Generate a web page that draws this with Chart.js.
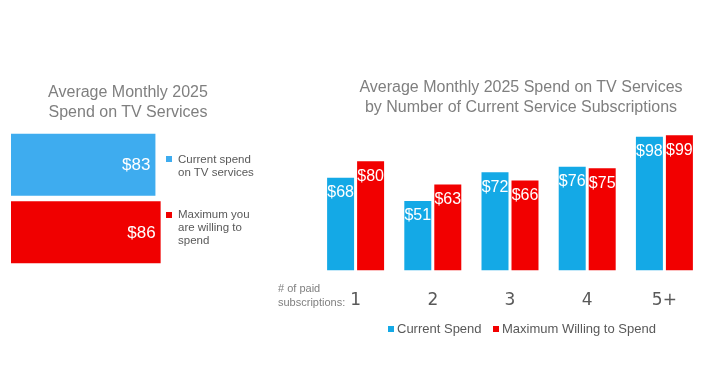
<!DOCTYPE html>
<html>
<head>
<meta charset="utf-8">
<script src="https://cdn.jsdelivr.net/npm/chart.js@4.4.1/dist/chart.umd.min.js"></script>
<style>
  body { margin: 0; background: #fff; font-family: "Liberation Sans", Arial, sans-serif; }
  #wrap { position: relative; width: 720px; height: 366px; overflow: hidden; }
  canvas { position: absolute; top: 0; }
  .title { position: absolute; color: #7f7f7f; font-size: 16px; line-height: 20px; text-align: center; white-space: nowrap; }
  .leg { position: absolute; color: #595959; font-size: 11.5px; line-height: 13px; white-space: nowrap; }
  .sw { position: absolute; width: 6px; height: 6px; }
  .note { position: absolute; color: #808080; font-size: 11px; line-height: 14px; white-space: nowrap; }
  .leg2 { position: absolute; color: #595959; font-size: 13px; line-height: 16px; white-space: nowrap; }
</style>
</head>
<body>
<div id="wrap">
  <canvas id="overall" width="190" height="366" style="left:0"></canvas>
  <canvas id="bySubs" width="450" height="366" style="left:270px"></canvas>

  <div class="title" style="left:28px; top:82px; width:200px;">Average Monthly 2025<br>Spend on TV Services</div>
  <div class="title" style="left:341px; top:77px; width:360px;">Average Monthly 2025 Spend on TV Services<br>by Number of Current Service Subscriptions</div>

  <div class="sw" style="left:166px; top:156px; background:#3eacef"></div>
  <div class="leg" style="left:178px; top:153px;">Current spend<br>on TV services</div>
  <div class="sw" style="left:166px; top:212px; background:#f00000"></div>
  <div class="leg" style="left:178px; top:208px;">Maximum you<br>are willing to<br>spend</div>

  <div class="note" style="left:278px; top:281px;"># of paid<br>subscriptions:</div>

  <div class="sw" style="left:388px; top:326px; background:#14a9e6"></div>
  <div class="leg2" style="left:397px; top:321px;">Current Spend</div>
  <div class="sw" style="left:493px; top:326px; background:#f20000"></div>
  <div class="leg2" style="left:502px; top:321px;">Maximum Willing to Spend</div>
</div>
<script>
// left chart: overall averages
const overallLabels = ['Current spend on TV services', 'Maximum you are willing to spend'];
const overallValues = [83, 86];
const overallColors = ['#3eacef', '#f00000'];

// right chart: by number of subscriptions
const subsLabels = ['1', '2', '3', '4', '5+'];
const currentSpend = [68, 51, 72, 76, 98];
const maxWilling = [80, 63, 66, 75, 99];

const BLUE = '#14a9e6';
const RED = '#f20000';

// white $ labels drawn on each bar
const valueLabels = {
    id: 'valueLabels',
    afterDatasetsDraw(chart, args, opts) {
        const ctx = chart.ctx;
        ctx.save();
        ctx.fillStyle = '#fff';
        ctx.font = opts.size + 'px "Liberation Sans", Arial, sans-serif';
        ctx.textBaseline = 'middle';
        chart.data.datasets.forEach((ds, i) => {
            chart.getDatasetMeta(i).data.forEach((bar, j) => {
                const txt = '$' + ds.data[j];
                if (opts.horizontal) {
                    ctx.textAlign = 'right';
                    ctx.fillText(txt, bar.x - 5, bar.y + 1);
                } else {
                    ctx.textAlign = 'center';
                    ctx.fillText(txt, bar.x, bar.y + 15);
                }
            });
        });
        ctx.restore();
    }
};

new Chart(document.getElementById('overall'), {
    type: 'bar',
    data: {
        labels: overallLabels,
        datasets: [{
            data: overallValues,
            backgroundColor: overallColors,
            barPercentage: 0.92,
            categoryPercentage: 1
        }]
    },
    options: {
        indexAxis: 'y',
        responsive: false,
        animation: false,
        layout: { padding: { left: 11, right: 5, top: 131, bottom: 100 } },
        plugins: {
            legend: { display: false },
            tooltip: { enabled: false },
            valueLabels: { size: 17, horizontal: true }
        },
        scales: {
            x: { display: false, min: 0, max: 100 },
            y: { display: false }
        }
    },
    plugins: [valueLabels]
});

new Chart(document.getElementById('bySubs'), {
    type: 'bar',
    data: {
        labels: subsLabels,
        datasets: [
            { label: 'Current Spend', data: currentSpend, backgroundColor: BLUE },
            { label: 'Maximum Willing to Spend', data: maxWilling, backgroundColor: RED }
        ]
    },
    options: {
        responsive: false,
        animation: false,
        datasets: { bar: { barPercentage: 0.9, categoryPercentage: 0.777 } },
        layout: { padding: { left: 47, right: 17, top: 134, bottom: 35 } },
        plugins: {
            legend: { display: false },
            tooltip: { enabled: false },
            valueLabels: { size: 16, horizontal: false }
        },
        scales: {
            x: {
                grid: { display: false, drawTicks: false },
                border: { display: false },
                ticks: {
                    color: '#595959',
                    padding: 20,
                    font: { size: 17, family: '"DejaVu Sans", sans-serif' }
                }
            },
            y: { display: false, min: 0, max: 100 }
        }
    },
    plugins: [valueLabels]
});
</script>
</body>
</html>
